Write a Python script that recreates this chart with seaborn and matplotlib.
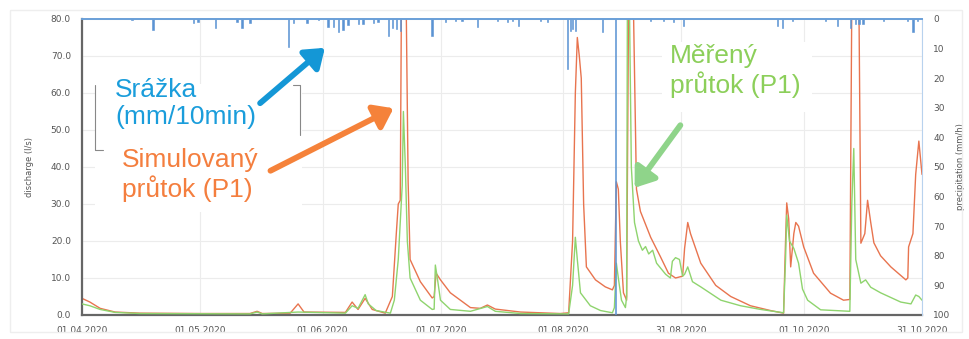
import numpy as np
import pandas as pd
import seaborn as sns
import matplotlib.pyplot as plt
from matplotlib.patches import Rectangle, FancyArrowPatch
from matplotlib.lines import Line2D

# days since 01.04.2020 and discharge (l/s)
sim_day = [0, 2, 4.6, 8.4, 14.7, 30, 42.6, 44.4, 45.7, 52.8, 54.8, 56.3, 66.8, 68.5, 70, 71.8, 73.6,
           76.9, 78.7, 79.7, 80.2, 80.7, 81.0, 82.2, 82.7, 83.2, 85.8, 88.8, 89.3, 89.8, 90.9, 93.4,
           98.5, 101, 102.8, 104.8, 111.2, 121.3, 123.4, 124.4, 125.1, 125.6, 126.1, 126.6, 127.2,
           127.9, 130.2, 132.7, 134.5, 135, 135.5, 136, 136.5, 137.3, 138.1, 138.6, 139.8, 140.6,
           141.6, 144.2, 146.7, 148.7, 150.5, 152.3, 152.8, 153.6, 154.3, 156.9, 160.7, 164.5, 169.5,
           174.6, 177.9, 178.4, 178.7, 179.2, 179.7, 180.5, 181, 181.7, 183, 185.5, 189.8, 193.1,
           194.7, 195.2, 197, 197.5, 198.5, 199.2, 200, 200.8, 202.5, 205.1, 208.9, 209.4, 209.6,
           210.7, 211.4, 212.2, 213]
sim_q = [4.5, 3.5, 1.8, 0.8, 0.5, 0.4, 0.4, 1.0, 0.4, 0.5, 3.0, 0.8, 0.7, 3.5, 1.5, 4.5, 1.5,
         0.5, 5, 22, 30, 31, 85, 85, 36, 15, 9, 4.6, 5, 11.3, 9.5, 6,
         2, 1.8, 2.7, 1.6, 0.8, 0.4, 0.6, 20, 60, 75, 70, 64, 30,
         13, 9.5, 7.6, 6.8, 8, 36, 34, 20, 6, 4, 85, 85, 34,
         28, 21, 15.7, 11.3, 10, 10.5, 18, 25, 22, 14, 8, 5, 2.5,
         1.2, 0.5, 20, 30.3, 26, 13, 22, 25, 24, 18.4, 11.3, 5.9, 4,
         4.2, 85, 85, 19.4, 22, 31, 25, 19.5, 16, 13, 9.5, 10, 18.4,
         22, 38, 47, 38]

meas_day = [0, 2, 4.6, 8.4, 14.7, 42.6, 44.4, 45.7, 54.8, 66.8, 68.5, 70, 71.8, 72.6, 74.6, 78.2,
            79.2, 80.2, 81.2, 81.5, 82, 82.5, 83.2, 85.8, 88.8, 89.3, 89.6, 90.1, 90.9, 93.4, 98.5,
            102.8, 104.8, 111.2, 123.4, 124.4, 125.1, 125.6, 126.4, 128.9, 131.5, 134.5, 135, 135.5,
            136, 136.8, 137.8, 138.1, 138.3, 138.8, 139.3, 140.1, 141.1, 142.1, 142.9, 143.7, 144.7,
            145.7, 148, 149.2, 149.7, 150.5, 151.5, 152.3, 152.8, 153.6, 154.8, 156.9, 162, 167,
            172.1, 177.9, 178.4, 178.7, 179.4, 180.5, 181.7, 182.7, 184, 187.3, 194.7, 195.2, 195.7,
            196.2, 197.5, 198.7, 200, 202.5, 207.6, 210.2, 211.4, 212.2, 213]
meas_q = [3.0, 2.5, 1.5, 0.7, 0.4, 0.3, 0.8, 0.3, 0.8, 0.5, 2.5, 1.8, 5.5, 3, 1.2, 0.5,
          4, 15, 35, 55, 40, 20, 10, 4, 1.5, 1.6, 13.5, 10, 4, 1.5, 1.0,
          2.3, 1.0, 0.4, 0.3, 8, 21, 15, 6, 2.5, 1.2, 0.6, 2, 14,
          10, 4, 2, 5, 85, 85, 40, 25, 20, 17.5, 18.5, 16.5, 17.5,
          14, 11, 10, 14.5, 15.5, 15, 10.5, 11, 13, 9, 7.6, 4, 2.5,
          1.5, 0.6, 15, 27, 20, 18, 14, 7, 4, 1.4, 1.0, 30, 45,
          15, 8.6, 9.5, 7.5, 6, 3.5, 3, 5.4, 5, 4]

# precipitation (mm/h), hanging from the top
rain_day = [12.7, 18.0, 28.2, 29.4, 33.8, 39.3, 40.6, 42.6, 52.3, 53.6, 57.1, 59.9, 62.4, 63.7,
            65.0, 66.2, 67.5, 70.1, 71.3, 73.9, 75.1, 77.7, 78.7, 79.7, 80.7, 88.8, 92.1, 94.7,
            96.4, 100.3, 105.3, 107.9, 109.1, 110.7, 116.2, 118.0, 123.1, 123.9, 124.4, 125.1,
            132.0, 135.3, 144.2, 147.5, 150.0, 152.5, 176.4, 177.7, 180.2, 188.6, 191.6, 194.9,
            196.2, 197.0, 198.0, 203.3, 209.4, 210.7, 211.9]
rain_mm = [0.5, 3.7, 1.5, 1.0, 3.0, 1.0, 3.0, 1.5, 9.5, 1.5, 1.5, 0.5, 2.7, 2.7,
           4.4, 3.7, 2.0, 1.7, 1.7, 1.2, 1.0, 5.7, 3.0, 3.5, 4.0, 5.7, 1.0, 0.7,
           0.7, 2.7, 0.7, 1.0, 0.7, 2.3, 0.7, 1.0, 17, 4, 3.4, 4,
           4.4, 100, 0.7, 0.7, 1.0, 2.3, 2.3, 3.0, 0.7, 0.7, 2.3, 3.0,
           1.7, 1.7, 1.7, 0.7, 0.7, 4.4, 0.7]

tick_dates = ["2020-04-01", "2020-05-01", "2020-06-01", "2020-07-01",
              "2020-08-01", "2020-08-31", "2020-10-01", "2020-10-31"]

start = pd.Timestamp("2020-04-01")
to_date = lambda d: start + pd.to_timedelta(d, unit="D")

sim = pd.DataFrame({"date": to_date(sim_day), "q": sim_q})
meas = pd.DataFrame({"date": to_date(meas_day), "q": meas_q})
rain = pd.DataFrame({"date": to_date(rain_day), "mm": rain_mm})

sns.set_style("whitegrid")
plt.rcParams["font.family"] = ["DejaVu Sans"]

fig, ax = plt.subplots(figsize=(9.69, 3.39), dpi=100)
fig.subplots_adjust(left=0.0846, right=0.9515, top=0.944, bottom=0.0708)

sns.lineplot(data=meas, x="date", y="q", ax=ax, color="#8fd46e", lw=1.0, zorder=3)
sns.lineplot(data=sim, x="date", y="q", ax=ax, color="#e8744f", lw=1.0, zorder=2)

ax.set_ylim(0, 80)
ax.set_yticks(np.arange(0, 81, 10))
ax.set_yticklabels([f"{v:.1f}" for v in np.arange(0, 81, 10)])
ax.set_xlim(start, pd.Timestamp("2020-10-31"))
ticks = pd.to_datetime(tick_dates)
ax.set_xticks(ticks)
ax.set_xticklabels([t.strftime("%d.%m.%Y") for t in ticks])
ax.set_xlabel("")
ax.set_ylabel("discharge (l/s)", fontsize=6, color="#555555", labelpad=12)
ax.tick_params(labelsize=6.5, colors="#555555", length=0, pad=8)
ax.grid(color="#ececec", lw=0.8)
for side in ["left", "bottom"]:
    ax.spines[side].set_color("#666666")
    ax.spines[side].set_linewidth(1.6)
ax.spines["top"].set_visible(False)
ax.spines["right"].set_visible(False)

ax2 = ax.twinx()
ax2.bar(rain["date"], rain["mm"], width=0.35, color="#5b93d3", edgecolor="#5b93d3", lw=0.4)
ax2.set_ylim(100, 0)
ax2.set_yticks(np.arange(0, 101, 10))
ax2.grid(False)
ax2.set_ylabel("precipitation (mm/h)", fontsize=6, color="#555555", labelpad=4)
ax2.tick_params(labelsize=6.5, colors="#555555", length=0, pad=8)
ax2.spines["top"].set_color("#6a9fd8")
ax2.spines["top"].set_linewidth(1.4)
ax2.spines["right"].set_color("#b8d2ee")
ax2.spines["left"].set_visible(False)
ax2.spines["bottom"].set_visible(False)

# light frame around the chart
W, H = 969, 339
px = lambda x, y: (x / W, 1 - y / H)
fig.patches.append(Rectangle(px(10, 332), 952 / W, 322 / H, transform=fig.transFigure,
                             fill=False, edgecolor="#eeeeee", lw=1))

# white boxes behind the call-outs
fig.patches.append(Rectangle(px(95, 212), 207 / W, 128 / H, transform=fig.transFigure,
                             facecolor="white", edgecolor="none", zorder=2))
fig.patches.append(Rectangle(px(662, 112), 150 / W, 70 / H, transform=fig.transFigure,
                             facecolor="white", edgecolor="none", zorder=2))
for xs, ys in [([95, 95, 103], [85, 150, 150]), ([293, 300, 300], [85, 85, 135])]:
    fx = [x / W for x in xs]
    fy = [1 - y / H for y in ys]
    fig.add_artist(Line2D(fx, fy, color="#888888", lw=0.8, transform=fig.transFigure, zorder=3))

font = ["Liberation Sans", "DejaVu Sans"]
fig.text(*px(115, 78), "Srážka\n(mm/10min)", color="#1a9ddb", fontsize=19, va="top",
         family=font, linespacing=1.15, zorder=4)
fig.text(*px(122, 148), "Simulovaný\nprůtok (P1)", color="#f47e3e", fontsize=19, va="top",
         family=font, linespacing=1.15, zorder=4)
fig.text(*px(670, 44), "Měřený\nprůtok (P1)", color="#8ccf5a", fontsize=19, va="top",
         family=font, linespacing=1.15, zorder=4)

for tail, head, col in [((258, 105), (327, 46), "#1497d6"),
                        ((268, 172), (396, 107), "#f5823a"),
                        ((682, 123), (633, 190), "#8fd48a")]:
    fig.add_artist(FancyArrowPatch(px(*tail), px(*head), transform=fig.transFigure,
                                   arrowstyle="-|>,head_length=0.55,head_width=0.4",
                                   mutation_scale=20, lw=4.2, color=col, zorder=5))

fig.savefig("out.png", dpi=100)
